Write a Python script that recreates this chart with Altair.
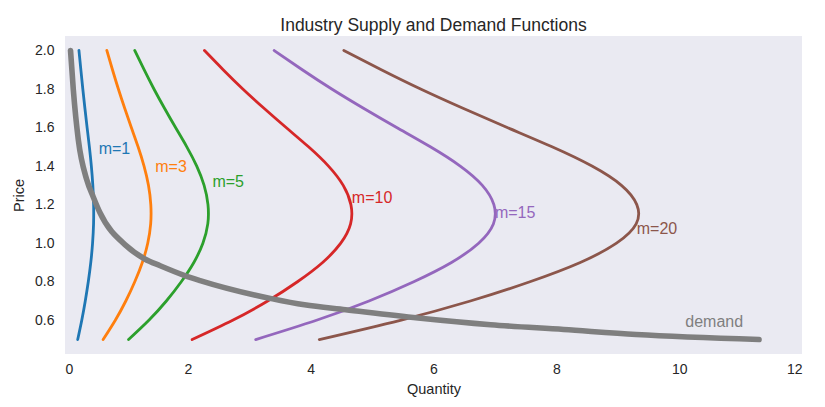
import altair as alt
import pandas as pd

# ---- data ----
price = [0.5, 0.6, 0.7, 0.8, 0.9, 1.0, 1.1, 1.2, 1.3, 1.4, 1.5, 1.6, 1.7, 1.8, 1.9, 2.0]

supply_m1 = [0.207, 0.273, 0.330, 0.379, 0.420, 0.449, 0.465, 0.466, 0.453, 0.429, 0.397, 0.360, 0.324, 0.290, 0.258, 0.227]
supply_m3 = [0.621, 0.819, 0.990, 1.136, 1.259, 1.347, 1.395, 1.397, 1.359, 1.287, 1.190, 1.080, 0.972, 0.869, 0.773, 0.681]
supply_m5 = [1.035, 1.365, 1.650, 1.893, 2.098, 2.245, 2.325, 2.328, 2.265, 2.145, 1.983, 1.800, 1.620, 1.448, 1.288, 1.135]
supply_m10 = [2.07, 2.73, 3.30, 3.785, 4.195, 4.49, 4.65, 4.655, 4.53, 4.29, 3.965, 3.60, 3.24, 2.895, 2.575, 2.27]
supply_m15 = [3.105, 4.095, 4.95, 5.678, 6.293, 6.735, 6.975, 6.983, 6.795, 6.435, 5.948, 5.40, 4.86, 4.343, 3.863, 3.405]
supply_m20 = [4.14, 5.46, 6.60, 7.57, 8.39, 8.98, 9.30, 9.31, 9.06, 8.58, 7.93, 7.20, 6.48, 5.79, 5.15, 4.54]

demand_price = [0.5, 0.526, 0.552, 0.577, 0.612, 0.655, 0.68, 0.711, 0.806, 0.832, 0.883, 0.918, 0.986, 1.158, 1.24, 1.33, 1.536, 1.794, 2.0]
demand_qty = [11.3, 9.3, 8.12, 6.93, 5.75, 4.57, 3.9, 3.38, 2.2, 1.95, 1.55, 1.30, 1.0, 0.57, 0.46, 0.353, 0.217, 0.136, 0.09]

series_names = ["m=1", "m=3", "m=5", "m=10", "m=15", "m=20"]
series_colors = ["#1f77b4", "#ff7f0e", "#2ca02c", "#d62728", "#9467bd", "#8c564b"]
demand_color = "#7f7f7f"

label_names = ["m=1", "m=3", "m=5", "m=10", "m=15", "m=20", "demand"]
label_qty = [0.548, 1.47, 2.40, 4.67, 7.0, 9.31, 10.1]
label_price = [1.488, 1.397, 1.316, 1.236, 1.155, 1.072, 0.591]

x_ticks = [0, 2, 4, 6, 8, 10, 12]
y_ticks = [0.6, 0.8, 1.0, 1.2, 1.4, 1.6, 1.8, 2.0]

# ---- tables ----
supply_rows = []
for name, vals in zip(series_names, [supply_m1, supply_m3, supply_m5, supply_m10, supply_m15, supply_m20]):
    for p, q in zip(price, vals):
        supply_rows.append({"series": name, "Quantity": q, "Price": p})
supply_df = pd.DataFrame(supply_rows)
demand_df = pd.DataFrame({"series": "demand", "Quantity": demand_qty, "Price": demand_price})
label_df = pd.DataFrame({"series": label_names, "Quantity": label_qty, "Price": label_price})

color_scale = alt.Scale(domain=series_names + ["demand"], range=series_colors + [demand_color])
x_scale = alt.Scale(domain=[0, 12], nice=False, zero=False)
y_scale = alt.Scale(domain=[0.425, 2.075], nice=False, zero=False)

x_enc = alt.X("Quantity:Q", scale=x_scale,
              axis=alt.Axis(title="Quantity", values=x_ticks, format="d", grid=False, domain=False,
                            ticks=False, tickSize=0, labelPadding=8, titlePadding=6))
y_enc = alt.Y("Price:Q", scale=y_scale,
              axis=alt.Axis(title="Price", values=y_ticks, format=".1f", grid=False, domain=False,
                            ticks=False, tickSize=0, labelPadding=11, titlePadding=8))

supply = alt.Chart(supply_df).mark_line(strokeWidth=2.8, interpolate="natural", strokeCap="round").encode(
    x=x_enc, y=y_enc,
    color=alt.Color("series:N", scale=color_scale, legend=None),
    order=alt.Order("Price:Q"),
)

demand = alt.Chart(demand_df).mark_line(strokeWidth=5.6, interpolate="monotone", strokeCap="round").encode(
    x=alt.X("Quantity:Q", scale=x_scale),
    y=alt.Y("Price:Q", scale=y_scale),
    color=alt.Color("series:N", scale=color_scale, legend=None),
)

labels = alt.Chart(label_df).mark_text(align="left", baseline="middle", fontSize=16,
                                       font="Liberation Sans").encode(
    x=alt.X("Quantity:Q", scale=x_scale),
    y=alt.Y("Price:Q", scale=y_scale),
    text="series:N",
    color=alt.Color("series:N", scale=color_scale, legend=None),
)

chart = alt.layer(supply, demand, labels).properties(
    width=737,
    height=318,
    title=alt.TitleParams("Industry Supply and Demand Functions", fontSize=17.5, font="Liberation Sans",
                          fontWeight="normal", color="#262626", offset=2),
    autosize=alt.AutoSizeParams(type="none"),
    padding={"left": 57, "top": 28, "right": 15, "bottom": 45},
    background="white",
).configure_view(
    fill="#EAEAF2", stroke=None
).configure_axis(
    labelFont="Liberation Sans", titleFont="Liberation Sans",
    labelFontSize=14, titleFontSize=14.5,
    labelColor="#262626", titleColor="#262626", titleFontWeight="normal",
)

chart.save("out.html", embed_options={"renderer": "svg", "actions": False})
